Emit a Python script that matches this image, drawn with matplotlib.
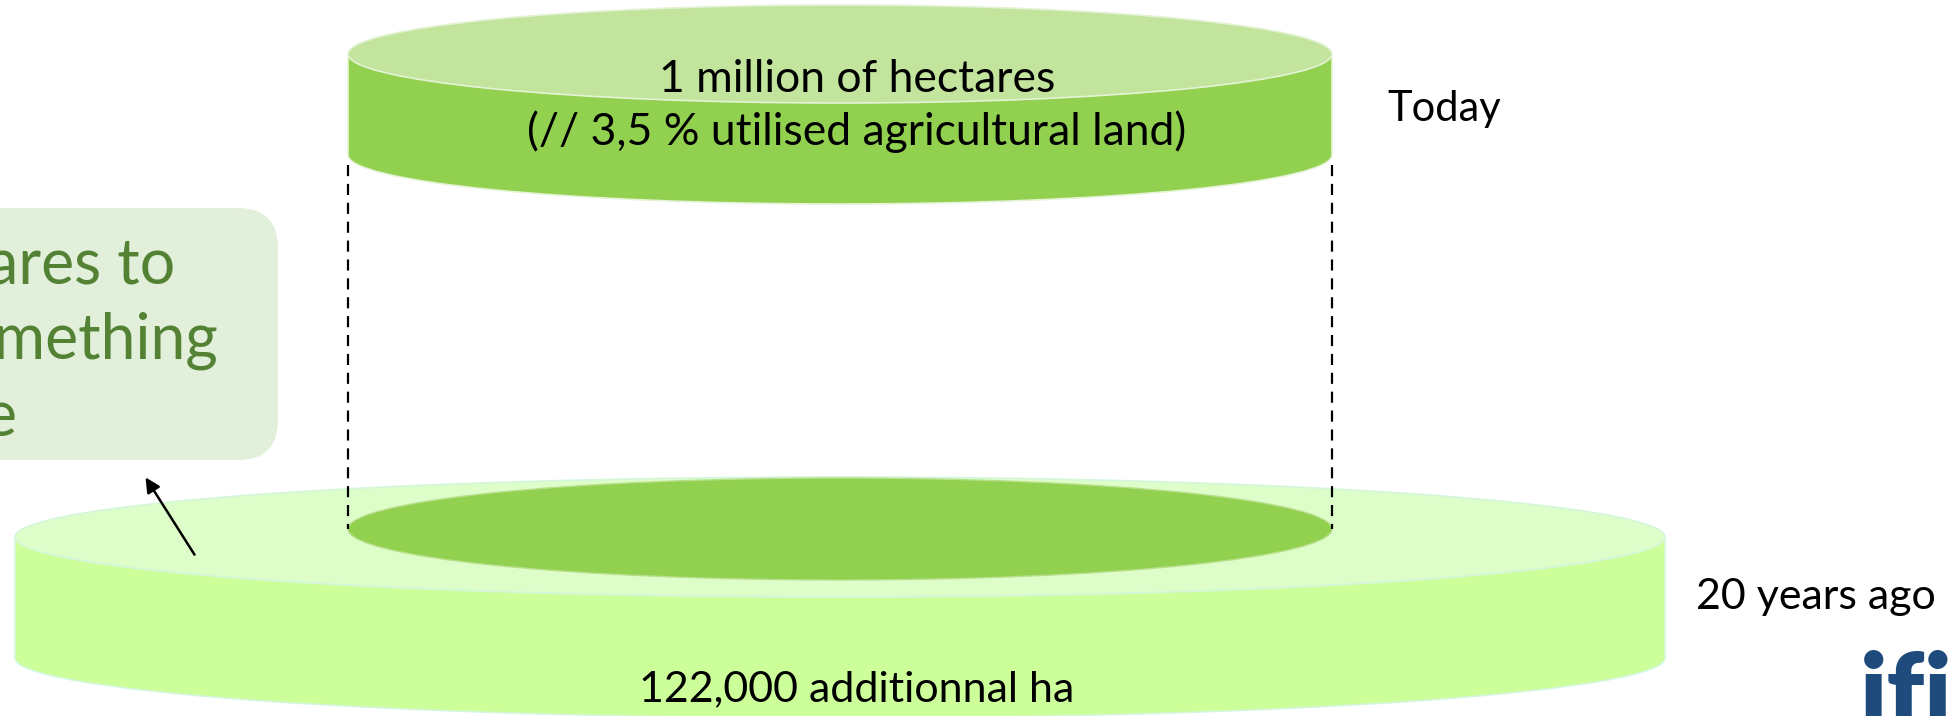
import matplotlib.pyplot as plt
from matplotlib.patches import Ellipse, Rectangle, FancyBboxPatch

# values shown on the slide
period_labels = ["Today", "20 years ago"]
today_ha = 1000000
added_ha = 122000
uaa_share = "3,5"
box_lines = ["hectares to", "something", "else"]

# layout (pixel coordinates, y going down)
W, H = 1959, 716
cx = 840
# upper disc (today)
up_a, up_b = 492, 49
up_top, up_bot = 54, 155
# lower disc (20 years ago)
lo_a, lo_b = 825, 60
lo_top, lo_bot = 537, 658
# footprint of today's disc on the lower one
in_y, in_b = 529, 51

font = "Lato"

fig = plt.figure(figsize=(W / 100, H / 100), dpi=100)
ax = fig.add_axes([0, 0, 1, 1])
ax.set_xlim(0, W)
ax.set_ylim(H, 0)
ax.axis("off")


def cylinder(a, b, ytop, ybot, top_col, side_col, edge_col):
    ax.add_patch(Ellipse((cx, ybot), 2 * a, 2 * b, fc=side_col, ec=edge_col, lw=1.2))
    ax.add_patch(Rectangle((cx - a, ytop), 2 * a, ybot - ytop, fc=side_col, ec="none"))
    ax.plot([cx - a, cx - a], [ytop, ybot], color=edge_col, lw=1.2)
    ax.plot([cx + a, cx + a], [ytop, ybot], color=edge_col, lw=1.2)
    ax.add_patch(Ellipse((cx, ytop), 2 * a, 2 * b, fc=top_col, ec=edge_col, lw=1.2))


# 20 years ago
cylinder(lo_a, lo_b, lo_top, lo_bot, "#ddfdc9", "#ccff99", "#d4f7dc")
ax.add_patch(Ellipse((cx, in_y), 2 * up_a, 2 * in_b, fc="#92d050", ec="#b8e08c", lw=1))

# dashed projection lines
for x in [cx - up_a, cx + up_a]:
    ax.plot([x, x], [up_bot + 10, in_y], color="black", lw=1.6, ls=(0, (5, 3.5)))

# today
cylinder(up_a, up_b, up_top, up_bot, "#c2e49d", "#92d050", "#e4f3d6")

ax.text(857, 79, f"{today_ha // 1000000} million of hectares", fontsize=32,
        family=font, ha="center", va="center")
ax.text(857, 132, f"(// {uaa_share} % utilised agricultural land)", fontsize=32,
        family=font, ha="center", va="center")
ax.text(857, 689, f"{added_ha:,} additionnal ha", fontsize=31,
        family=font, ha="center", va="center")
ax.text(1387, 109, period_labels[0], fontsize=30, family=font, ha="left", va="center")
ax.text(1696, 597, period_labels[1], fontsize=31, family=font, ha="left", va="center")

# call-out box, cut by the slide edge
ax.add_patch(FancyBboxPatch((-200, 208), 478, 252, boxstyle="round,pad=0,rounding_size=40",
                            fc="#e2efda", ec="none"))
box_right = [175, 219, 17]
box_base = [283, 358, 435]
for txt, xr, yb in zip(box_lines, box_right, box_base):
    ax.text(xr, yb, txt, fontsize=45, family=font, color="#548235",
            ha="right", va="baseline")

ax.annotate("", xy=(144, 475), xytext=(196, 557),
            arrowprops=dict(arrowstyle="-|>", color="black", lw=1.8, mutation_scale=22))

# logo
ax.text(1860, 650, "ifi", fontsize=74, family=font, weight="heavy",
        color="#1f4a7c", ha="left", va="top")

fig.savefig("out.png", dpi=100)
